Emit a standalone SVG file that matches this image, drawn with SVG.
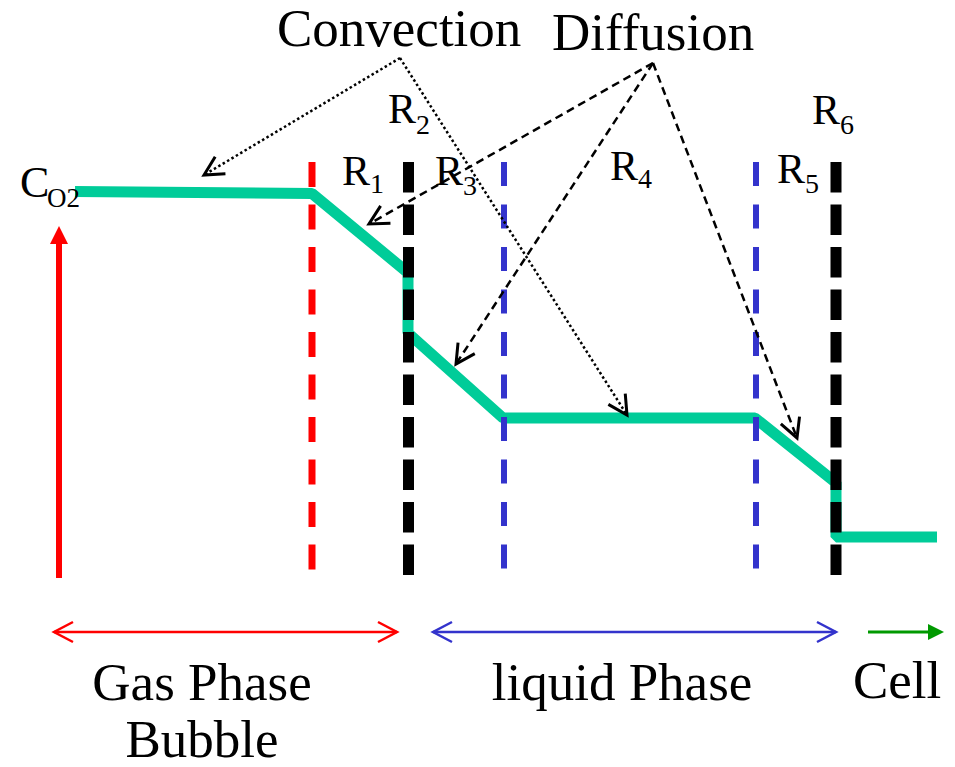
<svg xmlns="http://www.w3.org/2000/svg" width="955" height="767" viewBox="0 0 955 767">
<style>
  .t { font-family: "Liberation Serif", Tinos, "DejaVu Serif", serif; fill: #000; }
  .big { font-size: 53px; }
  .r { font-size: 42px; }
  .sub { font-size: 28px; }
  .dot { fill: none; stroke: #000; stroke-width: 2.5; stroke-dasharray: 2.5 2.6; }
  .dash { fill: none; stroke: #000; stroke-width: 2.5; stroke-dasharray: 8 5; }
</style>
<defs>
  <marker id="vK" markerUnits="userSpaceOnUse" viewBox="-25 -15 30 30" markerWidth="30" markerHeight="30" refX="0" refY="0" orient="auto-start-reverse" overflow="visible">
    <path d="M-19,-10 L0,0 L-19,10" fill="none" stroke="#000" stroke-width="3"/>
  </marker>
  <marker id="vR" markerUnits="userSpaceOnUse" viewBox="-25 -15 30 30" markerWidth="30" markerHeight="30" refX="0" refY="0" orient="auto-start-reverse" overflow="visible">
    <path d="M-19,-10 L0,0 L-19,10" fill="none" stroke="#ff0000" stroke-width="2.5"/>
  </marker>
  <marker id="vB" markerUnits="userSpaceOnUse" viewBox="-25 -15 30 30" markerWidth="30" markerHeight="30" refX="0" refY="0" orient="auto-start-reverse" overflow="visible">
    <path d="M-19,-10 L0,0 L-19,10" fill="none" stroke="#3333cc" stroke-width="2.5"/>
  </marker>
</defs>

<g id="profile">
  <polyline points="75,191.5 312,193.5 407,272 408,272 408,333 503,418 755,418 835,482 836,482 836,537 937,537" fill="none" stroke="#00cc99" stroke-width="11" stroke-linejoin="bevel"/>
</g>

<g id="boundaries">
  <line x1="312" y1="162" x2="312" y2="572" stroke="#ff0000" stroke-width="7" stroke-dasharray="25 17.5"/>
  <line x1="504" y1="162" x2="504" y2="572" stroke="#3333cc" stroke-width="6" stroke-dasharray="24 18.5"/>
  <line x1="756" y1="162" x2="756" y2="572" stroke="#3333cc" stroke-width="6" stroke-dasharray="24 18.5"/>
  <line x1="408.5" y1="162" x2="408.5" y2="575" stroke="#000" stroke-width="11" stroke-dasharray="30.5 12"/>
  <line x1="836" y1="162" x2="836" y2="575" stroke="#000" stroke-width="11" stroke-dasharray="30.5 12"/>
</g>

<g id="axis">
  <line x1="59" y1="578" x2="59" y2="242" stroke="#ff0000" stroke-width="6"/>
  <polygon points="50,244 68,244 59,226" fill="#ff0000"/>
  <text class="t" x="20" y="197" style="font-size:44px">C<tspan x="47" y="207" style="font-size:27px">O2</tspan></text>
</g>

<g id="connectors">
  <path class="dot" d="M400,58 L204,175" marker-end="url(#vK)"/>
  <path class="dot" d="M400,58 L627,415" marker-end="url(#vK)"/>
  <path class="dash" d="M653,63 L369,224" marker-end="url(#vK)"/>
  <path class="dash" d="M653,63 L456,364" marker-end="url(#vK)"/>
  <path class="dash" d="M653,63 L797,438" marker-end="url(#vK)"/>
</g>

<g id="labels">
  <text class="t big" x="277" y="46">Convection</text>
  <text class="t big" x="552" y="50">Diffusion</text>
  <text class="t r" x="342" y="185">R<tspan class="sub" x="370" y="193">1</tspan></text>
  <text class="t r" x="388" y="123">R<tspan class="sub" x="416" y="134">2</tspan></text>
  <text class="t r" x="435" y="185">R<tspan class="sub" x="463" y="195">3</tspan></text>
  <text class="t r" x="610" y="180">R<tspan class="sub" x="638" y="188">4</tspan></text>
  <text class="t r" x="777" y="183">R<tspan class="sub" x="805" y="193">5</tspan></text>
  <text class="t r" x="812" y="124">R<tspan class="sub" x="840" y="134">6</tspan></text>
</g>

<g id="gas-phase">
  <line x1="54" y1="632" x2="397" y2="632" stroke="#ff0000" stroke-width="2.5" marker-start="url(#vR)" marker-end="url(#vR)"/>
  <text class="t big" x="202" y="700" text-anchor="middle">Gas Phase</text>
  <text class="t big" x="202" y="757" text-anchor="middle">Bubble</text>
</g>

<g id="liquid-phase">
  <line x1="433" y1="632" x2="836" y2="632" stroke="#3333cc" stroke-width="2.5" marker-start="url(#vB)" marker-end="url(#vB)"/>
  <text class="t big" x="622" y="700" text-anchor="middle">liquid Phase</text>
</g>

<g id="cell">
  <line x1="868" y1="632" x2="930" y2="632" stroke="#009900" stroke-width="3"/>
  <polygon points="928,624 944,632 928,640" fill="#009900"/>
  <text class="t big" x="853" y="698">Cell</text>
</g>
</svg>
